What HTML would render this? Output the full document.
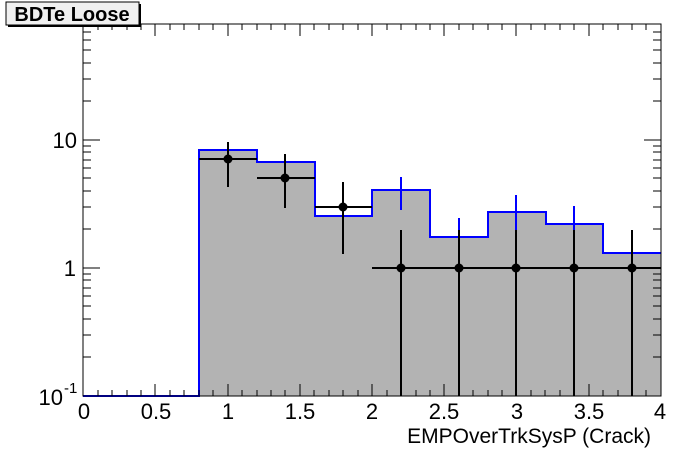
<!DOCTYPE html>
<html><head><style>body{margin:0;background:#fff}svg{display:block}text{font-family:"Liberation Sans",Arial,sans-serif}</style></head><body>
<svg width="696" height="472" xmlns="http://www.w3.org/2000/svg">
<rect width="696" height="472" fill="#fff"/>
<path d="M83,396 L199,396 L199,150 L257,150 L257,162 L315,162 L315,216 L372,216 L372,190 L430,190 L430,237 L488,237 L488,212 L546,212 L546,224 L603,224 L603,253 L661,253 L661,396 Z" fill="#b3b3b3"/>
<path d="M83,396 L199,396 L199,150 L257,150 L257,162 L315,162 L315,216 L372,216 L372,190 L430,190 L430,237 L488,237 L488,212 L546,212 L546,224 L603,224 L603,253 L661,253" fill="none" stroke="#0000ff" stroke-width="2"/>
<g stroke="#0000ff" stroke-width="2">
<line x1="401" y1="177" x2="401" y2="210"/><line x1="459" y1="218" x2="459" y2="258"/>
<line x1="516" y1="195" x2="516" y2="230"/><line x1="574" y1="206" x2="574" y2="244"/>
<line x1="632" y1="232" x2="632" y2="276"/>
</g>
<g stroke="#000" stroke-width="2">
<line x1="199" y1="159" x2="257" y2="159"/><line x1="228" y1="142" x2="228" y2="187"/>
<line x1="257" y1="178" x2="315" y2="178"/><line x1="285" y1="154" x2="285" y2="208"/>
<line x1="315" y1="207" x2="372" y2="207"/><line x1="343" y1="182" x2="343" y2="254"/>
<line x1="372" y1="268" x2="661" y2="268"/>
<line x1="401" y1="230" x2="401" y2="396"/><line x1="459" y1="230" x2="459" y2="396"/>
<line x1="516" y1="230" x2="516" y2="396"/><line x1="574" y1="230" x2="574" y2="396"/>
<line x1="632" y1="230" x2="632" y2="396"/>
</g>
<g fill="#000">
<circle cx="228" cy="159" r="4.5"/><circle cx="285" cy="178" r="4.5"/><circle cx="343" cy="207" r="4.5"/>
<circle cx="401" cy="268" r="4.5"/><circle cx="459" cy="268" r="4.5"/><circle cx="516" cy="268" r="4.5"/>
<circle cx="574" cy="268" r="4.5"/><circle cx="632" cy="268" r="4.5"/>
</g>
<rect x="83" y="24" width="578" height="372" fill="none" stroke="#000" stroke-width="1"/>
<g stroke="#000" stroke-width="1">
<path d="M83,396v-12M98,396v-6M112,396v-6M127,396v-6M141,396v-6M155,396v-12M170,396v-6M184,396v-6M199,396v-6M213,396v-6M228,396v-12M242,396v-6M257,396v-6M271,396v-6M285,396v-6M300,396v-12M314,396v-6M329,396v-6M343,396v-6M358,396v-6M372,396v-12M387,396v-6M401,396v-6M416,396v-6M430,396v-6M444,396v-12M459,396v-6M473,396v-6M488,396v-6M502,396v-6M516,396v-12M531,396v-6M545,396v-6M560,396v-6M574,396v-6M589,396v-12M603,396v-6M618,396v-6M632,396v-6M646,396v-6M661,396v-12"/>
<path d="M83,24v12M98,24v6M112,24v6M127,24v6M141,24v6M155,24v12M170,24v6M184,24v6M199,24v6M213,24v6M228,24v12M242,24v6M257,24v6M271,24v6M285,24v6M300,24v12M314,24v6M329,24v6M343,24v6M358,24v6M372,24v12M387,24v6M401,24v6M416,24v6M430,24v6M444,24v12M459,24v6M473,24v6M488,24v6M502,24v6M516,24v12M531,24v6M545,24v6M560,24v6M574,24v6M589,24v12M603,24v6M618,24v6M632,24v6M646,24v6M661,24v12"/>
<path d="M83,396h17M83,357h8M83,335h8M83,319h8M83,306h8M83,296h8M83,288h8M83,280h8M83,274h8M83,268h17M83,229h8M83,207h8M83,191h8M83,178h8M83,168h8M83,160h8M83,152h8M83,146h8M83,140h17M83,101h8M83,79h8M83,63h8M83,50h8M83,40h8M83,32h8M83,24h8"/>
<path d="M661,396h-17M661,357h-8M661,335h-8M661,319h-8M661,306h-8M661,296h-8M661,288h-8M661,280h-8M661,274h-8M661,268h-17M661,229h-8M661,207h-8M661,191h-8M661,178h-8M661,168h-8M661,160h-8M661,152h-8M661,146h-8M661,140h-17M661,101h-8M661,79h-8M661,63h-8M661,50h-8M661,40h-8M661,32h-8M661,24h-8"/>
</g>
<g font-size="22" fill="#000" text-anchor="middle">
<text x="84" y="419">0</text><text x="156" y="419">0.5</text><text x="228" y="419">1</text>
<text x="300" y="419">1.5</text><text x="372" y="419">2</text><text x="444" y="419">2.5</text>
<text x="517" y="419">3</text><text x="589" y="419">3.5</text><text x="660" y="419">4</text>
</g>
<g font-size="22" fill="#000" text-anchor="end">
<text x="76" y="276">1</text><text x="77" y="148">10</text>
<text x="63" y="405">10</text>
</g>
<text x="64" y="393" font-size="15">-1</text>
<text x="651" y="443" font-size="21" text-anchor="end">EMPOverTrkSysP (Crack)</text>
<rect x="6" y="2" width="133" height="23" fill="#f0f0f0" stroke="#000" stroke-width="1"/>
<rect x="139" y="4" width="2" height="22" fill="#000"/><rect x="8" y="25" width="133" height="2" fill="#000"/>
<text x="72" y="21" font-size="20" font-weight="bold" text-anchor="middle">BDTe Loose</text>
</svg>
</body></html>
